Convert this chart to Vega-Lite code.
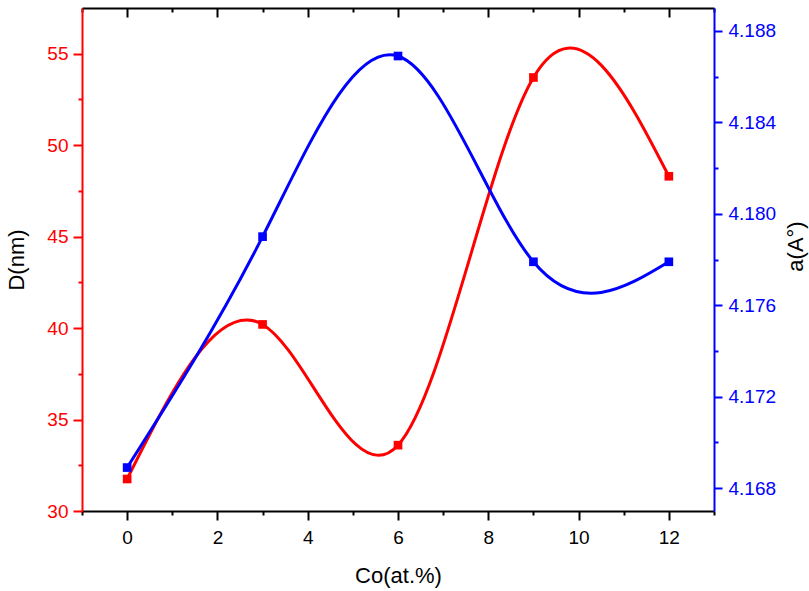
{
  "$schema": "https://vega.github.io/schema/vega-lite/v6.json",
  "width": 632,
  "height": 503,
  "autosize": {"type": "none"},
  "padding": {"left": 82, "top": 8, "right": 95, "bottom": 80},
  "background": "white",
  "data": {
    "values": [
      {"Co": 0, "D": 31.75, "a": 4.1689},
      {"Co": 3, "D": 40.2, "a": 4.179},
      {"Co": 6, "D": 33.6, "a": 4.1869},
      {"Co": 9, "D": 53.7, "a": 4.1779},
      {"Co": 12, "D": 48.3, "a": 4.1779}
    ]
  },
  "config": {
    "view": {"stroke": null},
    "axis": {
      "grid": false,
      "labelFont": "Liberation Sans",
      "titleFont": "Liberation Sans",
      "labelFontSize": 19,
      "titleFontSize": 22,
      "titleFontWeight": "normal",
      "titleColor": "#000000",
      "tickWidth": 2,
      "domainWidth": 2
    }
  },
  "layer": [
    {
      "encoding": {
        "x": {
          "field": "Co",
          "type": "quantitative",
          "scale": {"domain": [-1, 13], "nice": false, "zero": false},
          "axis": {
            "orient": "bottom",
            "title": "Co(at.%)",
            "values": [-1, 0, 1, 2, 3, 4, 5, 6, 7, 8, 9, 10, 11, 12, 13],
            "labelExpr": "datum.value % 2 === 0 ? datum.label : ''",
            "tickSize": {"condition": {"test": "datum.value % 2 === 0", "value": 9}, "value": 4},
            "labelPadding": 8,
            "titlePadding": 18,
            "domainColor": "#000000",
            "tickColor": "#000000",
            "labelColor": "#000000"
          }
        },
        "y": {
          "field": "D",
          "type": "quantitative",
          "scale": {"domain": [30, 57.5], "nice": false, "zero": false},
          "axis": {
            "orient": "left",
            "title": "D(nm)",
            "values": [30, 32.5, 35, 37.5, 40, 42.5, 45, 47.5, 50, 52.5, 55],
            "labelExpr": "datum.value % 5 === 0 ? datum.label : ''",
            "tickSize": {"condition": {"test": "datum.value % 5 === 0", "value": 9}, "value": 4},
            "labelPadding": 5,
            "titlePadding": 18,
            "domainColor": "#FF0000",
            "tickColor": "#FF0000",
            "labelColor": "#FF0000"
          }
        }
      },
      "layer": [
        {"mark": {"type": "line", "interpolate": "natural", "color": "#FF0000", "strokeWidth": 3}},
        {"mark": {"type": "square", "size": 75, "color": "#FF0000", "opacity": 1}}
      ]
    },
    {
      "encoding": {
        "x": {
          "field": "Co",
          "type": "quantitative",
          "scale": {"domain": [-1, 13], "nice": false, "zero": false},
          "axis": {
            "orient": "top",
            "title": null,
            "values": [-1, 0, 1, 2, 3, 4, 5, 6, 7, 8, 9, 10, 11, 12, 13],
            "labels": false,
            "tickSize": {"condition": {"test": "datum.value % 2 === 0", "value": -9}, "value": -4},
            "domainColor": "#000000",
            "tickColor": "#000000"
          }
        },
        "y": {
          "field": "a",
          "type": "quantitative",
          "scale": {"domain": [4.167, 4.189], "nice": false, "zero": false},
          "axis": {
            "orient": "right",
            "title": "a(A°)",
            "format": ".3f",
            "values": [4.168, 4.17, 4.172, 4.174, 4.176, 4.178, 4.18, 4.182, 4.184, 4.186, 4.188],
            "labelExpr": "(round(datum.value * 1000) - 4168) % 4 === 0 ? datum.label : ''",
            "tickSize": {"condition": {"test": "(round(datum.value * 1000) - 4168) % 4 === 0", "value": 8}, "value": 4},
            "labelPadding": 6,
            "titlePadding": 10,
            "titleAngle": -90,
            "titleBaseline": "top",
            "titleY": 238,
            "domainColor": "#0000FF",
            "tickColor": "#0000FF",
            "labelColor": "#0000FF"
          }
        }
      },
      "layer": [
        {"mark": {"type": "line", "interpolate": "natural", "color": "#0000FF", "strokeWidth": 3}},
        {"mark": {"type": "square", "size": 75, "color": "#0000FF", "opacity": 1}}
      ]
    }
  ],
  "resolve": {
    "scale": {"x": "independent", "y": "independent"},
    "axis": {"x": "independent", "y": "independent"}
  }
}
